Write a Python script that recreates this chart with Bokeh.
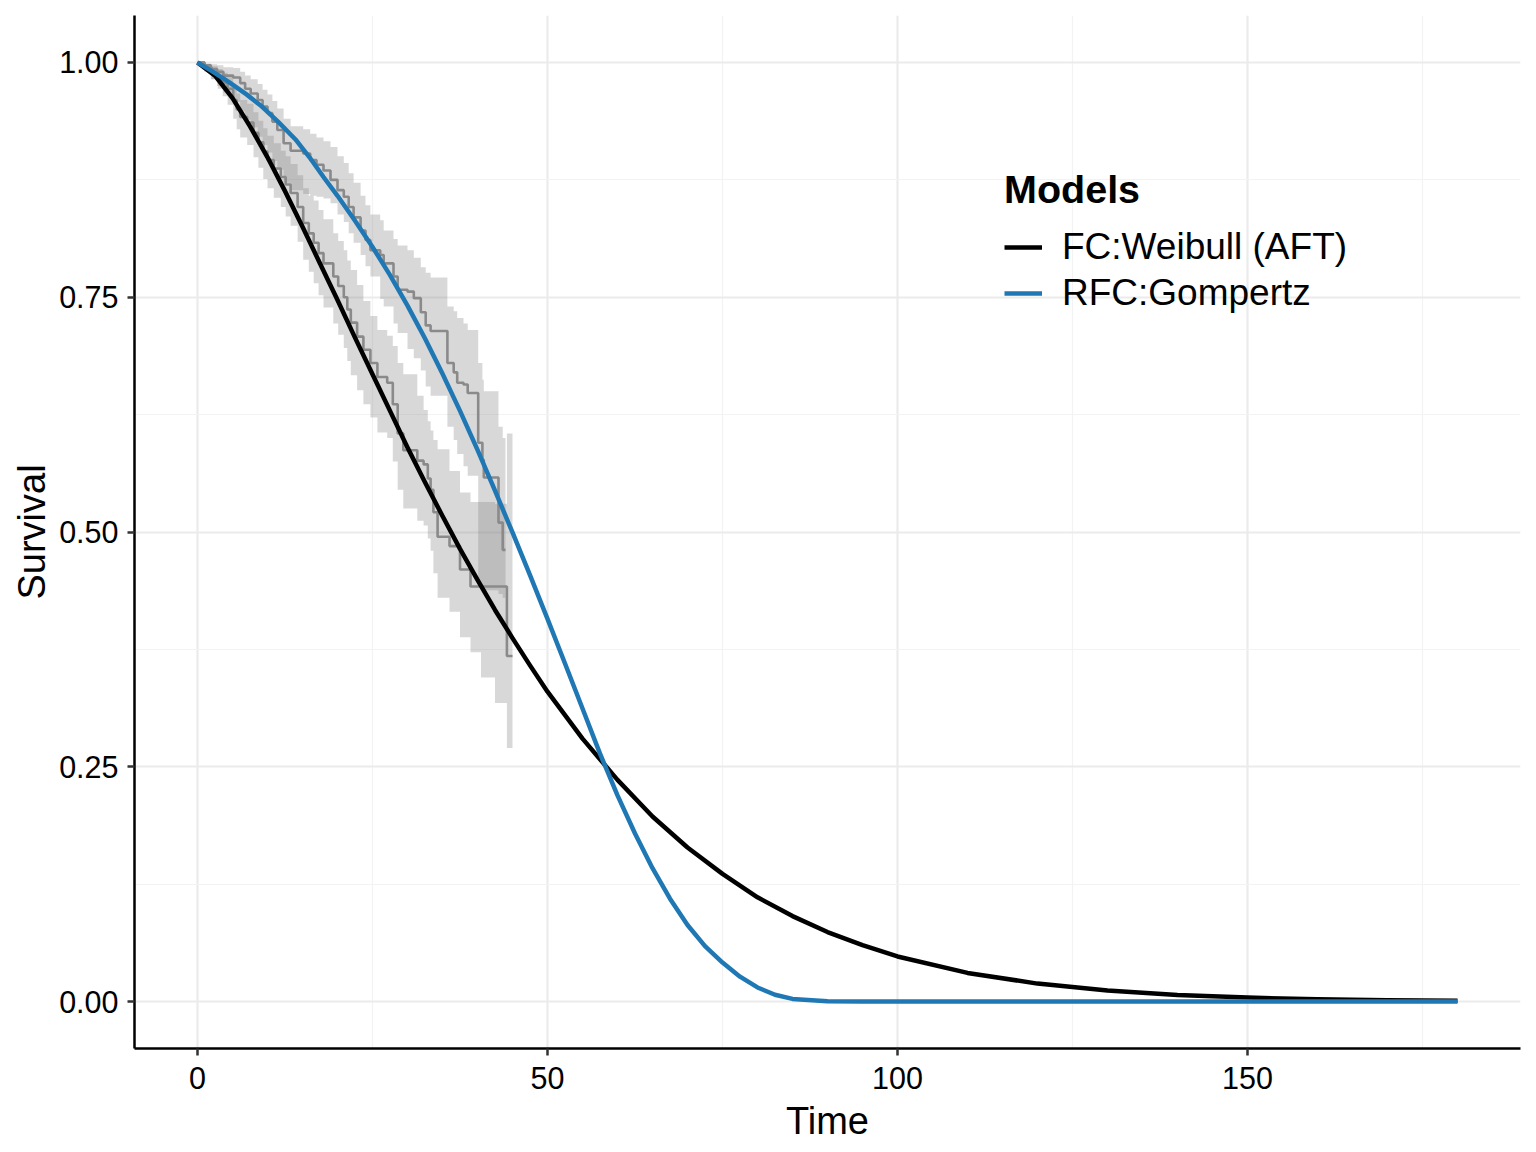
from bokeh.plotting import figure
from bokeh.models import Range1d, FixedTicker, Legend, LegendItem, ColumnDataSource
from bokeh.embed import file_html
from bokeh.resources import INLINE

# ---------------- data ----------------
x_ticks = [0, 50, 100, 150]
x_minor = [25, 75, 125, 175]
y_ticks = [0.0, 0.25, 0.5, 0.75, 1.0]
y_minor = [0.125, 0.375, 0.625, 0.875]
y_tick_labels = ["0.00", "0.25", "0.50", "0.75", "1.00"]

# Kaplan-Meier curve A (lower group) with confidence band
km_a_time = [0, 1.0, 2.0, 2.9, 3.6, 4.3, 5.1, 5.6, 6.1, 7.1, 8.0, 8.7, 9.4, 10.0, 10.9, 11.9,
             12.6, 13.3, 14.3, 15.1, 15.9, 16.6, 17.3, 18.0, 19.4, 20.1, 20.9, 21.4, 21.9, 22.8,
             23.7, 24.7, 25.7, 27.1, 27.9, 28.6, 29.4, 31.4, 32.3, 32.9, 33.3, 33.7, 34.3, 36.0,
             37.5, 39.0, 40.5, 42.5, 44.2, 45.0]
km_a_surv = [1.0, 0.995, 0.990, 0.984, 0.978, 0.972, 0.960, 0.950, 0.942, 0.936, 0.925, 0.915,
             0.905, 0.896, 0.887, 0.878, 0.870, 0.861, 0.846, 0.829, 0.818, 0.808, 0.797, 0.786,
             0.772, 0.762, 0.750, 0.737, 0.723, 0.708, 0.694, 0.680, 0.665, 0.659, 0.636, 0.605,
             0.587, 0.576, 0.572, 0.557, 0.545, 0.521, 0.495, 0.485, 0.460, 0.442, 0.442, 0.442,
             0.368, 0.368]
km_a_lower = [1.0, 0.991, 0.982, 0.972, 0.964, 0.955, 0.940, 0.929, 0.920, 0.912, 0.899, 0.888,
              0.876, 0.866, 0.856, 0.846, 0.836, 0.826, 0.809, 0.790, 0.777, 0.765, 0.752, 0.739,
              0.722, 0.710, 0.696, 0.682, 0.667, 0.651, 0.636, 0.622, 0.606, 0.600, 0.575, 0.545,
              0.525, 0.512, 0.507, 0.493, 0.480, 0.456, 0.430, 0.415, 0.388, 0.372, 0.345, 0.318,
              0.270, 0.270]
km_a_upper = [1.0, 0.998, 0.996, 0.993, 0.989, 0.985, 0.976, 0.967, 0.960, 0.956, 0.947, 0.938,
              0.930, 0.922, 0.914, 0.906, 0.900, 0.892, 0.880, 0.866, 0.858, 0.853, 0.843, 0.833,
              0.818, 0.810, 0.800, 0.789, 0.779, 0.763, 0.746, 0.730, 0.715, 0.709, 0.698, 0.680,
              0.668, 0.645, 0.630, 0.618, 0.608, 0.598, 0.588, 0.565, 0.542, 0.532, 0.532, 0.530,
              0.605, 0.605]

# Kaplan-Meier curve B (upper group) with confidence band
km_b_time = [0, 1.0, 1.9, 2.8, 3.7, 5.1, 6.1, 6.8, 7.6, 8.6, 9.3, 10.0, 10.7, 11.4, 12.3, 13.3,
             15.1, 16.1, 17.0, 18.0, 19.0, 20.0, 20.9, 21.6, 22.3, 23.3, 24.0, 24.7, 26.1, 26.6,
             28.0, 28.6, 30.0, 30.9, 31.9, 32.6, 33.3, 35.7, 36.6, 37.1, 38.0, 38.6, 40.1, 40.7,
             40.9, 43.0, 43.6, 44.0]
km_b_surv = [1.0, 0.997, 0.993, 0.990, 0.986, 0.984, 0.978, 0.972, 0.967, 0.960, 0.953, 0.946,
             0.937, 0.928, 0.914, 0.906, 0.903, 0.896, 0.891, 0.885, 0.875, 0.864, 0.857, 0.846,
             0.835, 0.821, 0.811, 0.800, 0.795, 0.786, 0.772, 0.758, 0.756, 0.749, 0.734, 0.720,
             0.714, 0.680, 0.670, 0.659, 0.657, 0.648, 0.595, 0.577, 0.558, 0.510, 0.481, 0.481]
km_b_lower = [1.0, 0.990, 0.982, 0.975, 0.968, 0.958, 0.948, 0.939, 0.931, 0.921, 0.912, 0.904,
              0.895, 0.886, 0.872, 0.864, 0.860, 0.858, 0.857, 0.855, 0.850, 0.838, 0.830, 0.818,
              0.808, 0.795, 0.783, 0.772, 0.748, 0.740, 0.722, 0.712, 0.695, 0.685, 0.672, 0.655,
              0.645, 0.612, 0.598, 0.583, 0.570, 0.560, 0.445, 0.440, 0.438, 0.434, 0.430, 0.430]
km_b_upper = [1.0, 0.999, 0.998, 0.997, 0.995, 0.994, 0.990, 0.986, 0.982, 0.977, 0.971, 0.966,
              0.959, 0.951, 0.940, 0.932, 0.929, 0.924, 0.920, 0.916, 0.910, 0.900, 0.893, 0.882,
              0.872, 0.858, 0.848, 0.838, 0.832, 0.821, 0.812, 0.805, 0.800, 0.792, 0.782, 0.776,
              0.771, 0.740, 0.735, 0.728, 0.722, 0.715, 0.680, 0.662, 0.650, 0.612, 0.600, 0.600]

# Fitted parametric model: FC:Weibull (AFT)
weib_time = [0, 2.5, 5, 7.5, 10, 12.5, 15, 17.5, 20, 22.5, 25, 27.5, 30, 32.5, 35, 37.5, 40,
             42.5, 45, 47.5, 50, 55, 60, 65, 70, 75, 80, 85, 90, 95, 100, 110, 120, 130, 140,
             150, 160, 170, 180]
weib_surv = [1.0, 0.986, 0.962, 0.932, 0.899, 0.863, 0.825, 0.786, 0.747, 0.707, 0.668, 0.629,
             0.590, 0.553, 0.517, 0.482, 0.449, 0.417, 0.387, 0.358, 0.330, 0.280, 0.236, 0.197,
             0.164, 0.136, 0.111, 0.091, 0.074, 0.060, 0.048, 0.0305, 0.0191, 0.0117, 0.0070,
             0.0042, 0.0024, 0.0014, 0.0008]

# Fitted parametric model: RFC:Gompertz
gomp_time = [0, 2, 4.5, 7, 9.2, 11.5, 14, 16, 18, 20, 22.5, 25, 27.5, 30, 32.5, 35, 37.5, 40,
             42.5, 45, 47.5, 50, 52.5, 55, 57.5, 60, 62.5, 65, 67.5, 70, 72.5, 75, 77.5, 80,
             82.5, 85, 90, 95, 100, 180]
gomp_surv = [1.0, 0.991, 0.979, 0.966, 0.953, 0.937, 0.918, 0.899, 0.878, 0.858, 0.8315, 0.8035,
             0.7735, 0.741, 0.706, 0.6685, 0.629, 0.5875, 0.544, 0.4995, 0.454, 0.4075, 0.360,
             0.312, 0.264, 0.2195, 0.179, 0.142, 0.1095, 0.0815, 0.059, 0.0415, 0.0265, 0.015,
             0.0072, 0.0028, 0.0004, 0.0, 0.0, 0.0]

legend_title = "Models"
model_labels = ["FC:Weibull (AFT)", "RFC:Gompertz"]
model_colors = ["#000000", "#1F78B4"]

FONT = "Liberation Sans"

# ---------------- figure ----------------
p = figure(width=1528, height=1144,
           x_range=Range1d(-9, 189), y_range=Range1d(-0.05, 1.05),
           output_backend="svg", toolbar_location=None,
           min_border_left=134, min_border_right=8, min_border_top=15, min_border_bottom=94)
p.outline_line_color = None
p.background_fill_color = "white"

src_a = ColumnDataSource(dict(t=km_a_time, s=km_a_surv, lo=km_a_lower, hi=km_a_upper))
src_b = ColumnDataSource(dict(t=km_b_time, s=km_b_surv, lo=km_b_lower, hi=km_b_upper))
for src in (src_a, src_b):
    p.varea_step(x="t", y1="lo", y2="hi", step_mode="after", source=src,
                 fill_color="#7F7F7F", fill_alpha=0.3)
for src in (src_a, src_b):
    p.step(x="t", y="s", mode="after", source=src, line_color="#8A8A8A", line_width=2.6)

r_w = p.line(weib_time, weib_surv, line_color=model_colors[0], line_width=4.5,
             line_join="round")
r_g = p.line(gomp_time, gomp_surv, line_color=model_colors[1], line_width=4.5,
             line_join="round")

# axes
p.xaxis.ticker = FixedTicker(ticks=x_ticks, minor_ticks=x_minor)
p.yaxis.ticker = FixedTicker(ticks=y_ticks, minor_ticks=y_minor)
p.yaxis.major_label_overrides = {t: l for t, l in zip(y_ticks, y_tick_labels)}
p.xaxis.axis_label = "Time"
p.yaxis.axis_label = "Survival"
for ax in (p.xaxis, p.yaxis):
    ax.axis_line_color = "black"
    ax.axis_line_width = 2.5
    ax.major_tick_line_color = "#333333"
    ax.major_tick_line_width = 2.5
    ax.major_tick_out = 7
    ax.major_tick_in = 0
    ax.minor_tick_line_color = None
    ax.major_label_text_font = FONT
    ax.major_label_text_font_size = "30.5px"
    ax.major_label_text_color = "black"
    ax.axis_label_text_font = FONT
    ax.axis_label_text_font_size = "38px"
    ax.axis_label_text_font_style = "normal"
    ax.axis_label_text_color = "black"
p.xaxis.major_label_standoff = 11
p.yaxis.major_label_standoff = 9
p.xaxis.axis_label_standoff = 8
p.yaxis.axis_label_standoff = 3

for g in (p.xgrid, p.ygrid):
    g.grid_line_color = "#EBEBEB"
    g.grid_line_width = 2.2
    g.minor_grid_line_color = "#F3F3F3"
    g.minor_grid_line_width = 1.2

legend = Legend(items=[LegendItem(label=model_labels[0], renderers=[r_w]),
                       LegendItem(label=model_labels[1], renderers=[r_g])],
                title=legend_title, location=(870, 732))
legend.background_fill_alpha = 0
legend.border_line_color = None
legend.padding = 0
legend.margin = 0
legend.spacing = 0
legend.glyph_width = 38
legend.glyph_height = 46
legend.label_height = 46
legend.label_standoff = 20
legend.label_text_font = FONT
legend.label_text_font_size = "37px"
legend.label_text_color = "black"
legend.title_text_font = FONT
legend.title_text_font_size = "39.5px"
legend.title_text_font_style = "bold"
legend.title_text_color = "black"
legend.title_standoff = 12
p.add_layout(legend)

open("out.html", "w").write(file_html(p, INLINE))
